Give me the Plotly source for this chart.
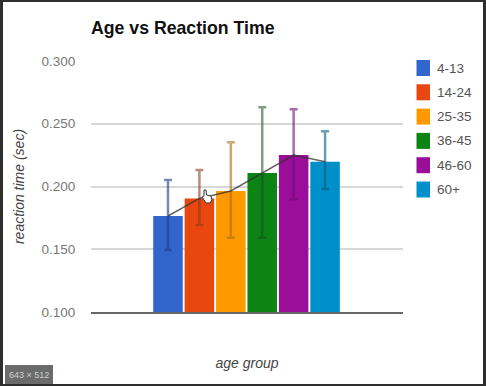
import plotly.graph_objects as go

groups = ["4-13", "14-24", "25-35", "36-45", "46-60", "60+"]
reaction_time = [0.1765, 0.1905, 0.1964, 0.2107, 0.2251, 0.2198]
error_high = [0.2052, 0.2131, 0.2352, 0.2631, 0.2615, 0.2440]
error_low = [0.1494, 0.1693, 0.1592, 0.1592, 0.1898, 0.1980]
colors = ["#3366cc", "#e8470f", "#ff9900", "#0b8415", "#990f99", "#0090c9"]
error_colors = ["rgba(30,60,130,0.6)", "rgba(140,60,30,0.6)", "rgba(170,110,20,0.6)",
                "rgba(20,80,30,0.55)", "rgba(110,10,120,0.6)", "rgba(10,90,130,0.6)"]
y_ticks = [0.10, 0.15, 0.20, 0.25, 0.30]
y_tick_labels = ["0.100", "0.150", "0.200", "0.250", "0.300"]

W, H = 486, 386
L, R, T, B = 91, 403, 61, 312
FONT = "Liberation Sans, Arial, sans-serif"


def fx(p):
    return (p - L) / (R - L)


def fy(p):
    return (B - p) / (B - T)


fig = go.Figure()
for g, v, hi, lo, c, ec in zip(groups, reaction_time, error_high, error_low, colors, error_colors):
    fig.add_trace(go.Bar(
        x=[g], y=[v], width=0.94, name=g, marker=dict(color=c, line=dict(width=0)),
        error_y=dict(type="data", symmetric=False, array=[hi - v], arrayminus=[v - lo],
                     color=ec, thickness=2.5, width=4),
        showlegend=False,
    ))
fig.add_trace(go.Scatter(
    x=groups, y=reaction_time, mode="lines", showlegend=False,
    line=dict(color="rgba(50,50,50,0.75)", width=1.5),
))

cursor_pts = [(204, 190), (206, 190), (206.5, 195), (211, 196), (212, 200), (210, 203),
              (206, 203), (202, 197), (204, 196)]
cursor_path = "M " + " L ".join(f"{fx(a):.4f} {fy(b):.4f}" for a, b in cursor_pts) + " Z"

shapes = [
    dict(type="rect", xref="paper", yref="paper", x0=fx(3), x1=fx(483), y0=fy(2), y1=fy(384),
         fillcolor="white", line=dict(width=0), layer="below"),
    dict(type="rect", xref="paper", yref="paper", x0=fx(5), x1=fx(53), y0=fy(365), y1=fy(384),
         fillcolor="#6b6b6b", line=dict(width=0), layer="above"),
    dict(type="path", xref="paper", yref="paper", path=cursor_path, fillcolor="white",
         line=dict(color="#333333", width=1), layer="above"),
]
annotations = [
    dict(text="643 × 512", xref="paper", yref="paper", x=fx(29), y=fy(374.5), showarrow=False,
         xanchor="center", yanchor="middle",
         font=dict(family=FONT, size=9, color="#cfcfcf")),
]
for i, (g, c) in enumerate(zip(groups, colors)):
    top = 60 + i * 24.3
    shapes.append(dict(type="rect", xref="paper", yref="paper", x0=fx(416.5), x1=fx(430),
                       y0=fy(top), y1=fy(top + 16), fillcolor=c, line=dict(width=0), layer="above"))
    annotations.append(dict(text=g, xref="paper", yref="paper", x=fx(435), y=fy(top + 8),
                            xanchor="left", yanchor="middle", showarrow=False,
                            font=dict(family=FONT, size=13.5, color="#555555")))

fig.update_layout(
    width=W, height=H, margin=dict(l=L, r=W - R, t=T, b=H - B),
    paper_bgcolor="#2e2e2e", plot_bgcolor="rgba(0,0,0,0)",
    barmode="overlay", showlegend=False, font=dict(family=FONT),
    title=dict(text="<b>Age vs Reaction Time</b>", x=fx(91), xref="paper", xanchor="left",
               y=1 - 28 / H, yanchor="middle", font=dict(family=FONT, size=17.7, color="#111111")),
    xaxis=dict(type="category", categoryorder="array", categoryarray=groups,
               range=[-2.45, 7.48], showticklabels=False, ticks="", showgrid=False,
               zeroline=False, showline=True, linecolor="#666666", linewidth=2,
               title=dict(text="<i>age group</i>", standoff=45,
                          font=dict(family=FONT, size=14, color="#444444"))),
    yaxis=dict(range=[0.10, 0.30], tickvals=y_ticks, ticktext=y_tick_labels,
               ticks="outside", ticklen=12, tickcolor="rgba(0,0,0,0)",
               showgrid=True, gridcolor="#d8d8d8", gridwidth=2, zeroline=False, showline=False,
               tickfont=dict(family=FONT, size=13.5, color="#777777"),
               title=dict(text="<i>reaction time (sec)</i>", standoff=13,
                          font=dict(family=FONT, size=14, color="#444444"))),
    shapes=shapes, annotations=annotations,
)
fig.write_html("out.html", config={"displayModeBar": False},
               post_script="document.body.style.margin='0';")
